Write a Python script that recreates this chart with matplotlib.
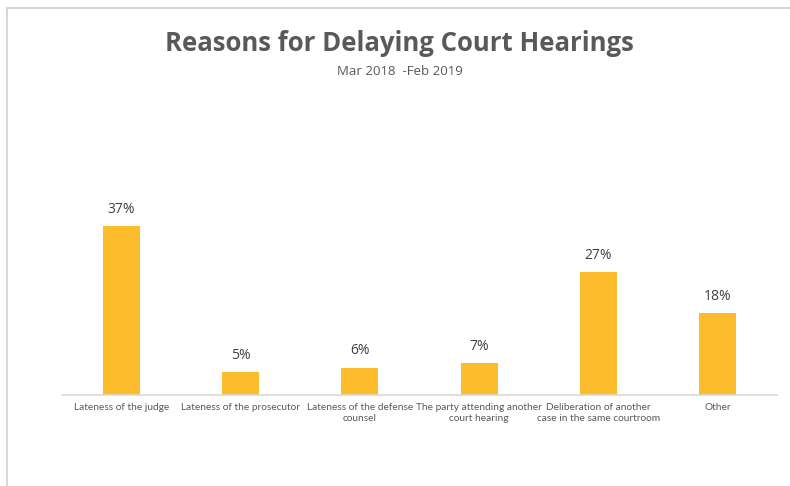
import matplotlib.pyplot as plt
from matplotlib.lines import Line2D

categories = ['Lateness of the judge', 'Lateness of the prosecutor',
              'Lateness of the defense\ncounsel', 'The party attending another\ncourt hearing',
              'Deliberation of another\ncase in the same courtroom', 'Other']
values = [37, 5, 6, 7, 27, 18]

grey = '#595959'
bar_color = '#FCBC2B'

fig = plt.figure(figsize=(7.9, 4.86), dpi=100)
ax = fig.add_axes([0.0785, 0.1872, 0.905, 0.5864])

x = range(len(categories))
bars = ax.bar(x, values, width=0.31, color=bar_color, zorder=2)
ax.set_xlim(-0.5, len(categories) - 0.5)
ax.set_ylim(0, 62.4)

for xi, v in zip(x, values):
    ax.text(xi, v + 2.0, f'{v}%', ha='center', va='bottom', fontsize=10,
            color='#404040', family='Open Sans')

ax.set_xticks(list(x))
ax.set_xticklabels(categories, fontsize=7.3, color=grey, family='Lato', linespacing=1.3)
ax.tick_params(axis='x', length=0, pad=6)
ax.set_yticks([])
for side in ['top', 'right', 'left']:
    ax.spines[side].set_visible(False)
ax.spines['bottom'].set_color('#D9D9D9')
ax.spines['bottom'].set_linewidth(1.2)

fig.text(0.506, 0.911, 'Reasons for Delaying Court Hearings', ha='center', va='center',
         fontsize=18.5, fontweight='bold', color=grey, family='Open Sans')
fig.text(0.506, 0.853, 'Mar 2018  -Feb 2019', ha='center', va='center',
         fontsize=9.5, color=grey, family='Open Sans')

# thin frame lines from the screenshot
fig.add_artist(Line2D([7 / 790, 7 / 790], [0, 1 - 8 / 486], color='#D0D0D0', lw=1.2))
fig.add_artist(Line2D([7 / 790, 1], [1 - 8 / 486, 1 - 8 / 486], color='#D0D0D0', lw=1.2))

fig.savefig('out.png', dpi=100)
